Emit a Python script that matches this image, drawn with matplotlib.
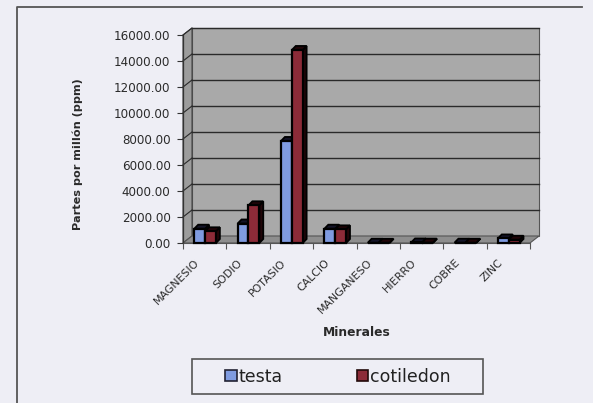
import matplotlib
matplotlib.use("Agg")
import matplotlib.pyplot as plt
from matplotlib.patches import Rectangle, Polygon, Patch
from matplotlib.lines import Line2D
from matplotlib.transforms import offset_copy, blended_transform_factory

# Mineral content of seed coat (testa) and cotyledon, ppm
minerales = ["MAGNESIO", "SODIO", "POTASIO", "CALCIO", "MANGANESO",
             "HIERRO", "COBRE", "ZINC"]
testa = [1100, 1500, 7850, 1100, 20, 40, 25, 350]
cotiledon = [900, 2900, 14850, 1050, 15, 30, 20, 250]
y_ticks = [0, 2000, 4000, 6000, 8000, 10000, 12000, 14000, 16000]

plt.rcParams['font.family'] = ['DejaVu Sans']

W, H = 593, 403
fig = plt.figure(figsize=(W / 100, H / 100), dpi=100)
bg = "#eeeef5"
fig.patch.set_facecolor(bg)

# outer chart border (left and top edges)
fig.lines.append(Line2D([17 / W, 17 / W, 582 / W], [0, 1 - 7 / H, 1 - 7 / H],
                        transform=fig.transFigure, color="#555555", lw=1.3))

ax = fig.add_axes([183 / W, 1 - 243 / H, 347 / W, 208 / H])
n = len(minerales)
ax.set_xlim(-0.5, n - 0.5)
ax.set_ylim(0, 16000)
ax.set_facecolor("none")
for s in ax.spines.values():
    s.set_visible(False)

# depth of the 3-D box in data units (9 px right, 7 px up)
fig.canvas.draw()
px_x = ax.bbox.width / n
px_y = ax.bbox.height / 16000
DX = 9 / px_x
DY = 7 / px_y
x0, x1 = -0.5, n - 0.5

wall = "#a9a9a9"
# back wall
ax.add_patch(Polygon([(x0 + DX, DY), (x1 + DX, DY), (x1 + DX, 16000 + DY),
                      (x0 + DX, 16000 + DY)], closed=True, facecolor=wall,
                     edgecolor="#555555", lw=0.8, clip_on=False, zorder=0))
# side wall
ax.add_patch(Polygon([(x0, 0), (x0 + DX, DY), (x0 + DX, 16000 + DY), (x0, 16000)],
                     closed=True, facecolor="#9c9c9c", edgecolor="#444444",
                     lw=0.8, clip_on=False, zorder=0.5))
# floor
ax.add_patch(Polygon([(x0, 0), (x1, 0), (x1 + DX, DY), (x0 + DX, DY)],
                     closed=True, facecolor="#8e8e8e", edgecolor="#555555",
                     lw=0.8, clip_on=False, zorder=0.6))
# gridlines on back and side walls
for t in y_ticks[1:]:
    ax.plot([x0 + DX, x1 + DX], [t + DY, t + DY], color="#2a2a2a", lw=1.0,
            clip_on=False, zorder=0.7)
    ax.plot([x0, x0 + DX], [t, t + DY], color="#2a2a2a", lw=0.8,
            clip_on=False, zorder=0.7)
# front axis lines
ax.plot([x0, x0], [0, 16000], color="#333333", lw=0.9, clip_on=False, zorder=0.8)
ax.plot([x0, x1], [0, 0], color="#555555", lw=0.8, clip_on=False, zorder=0.8)


def bar3d(xl, w, v, face, side, z):
    bd_x, bd_y = 0.09, 4 / px_y
    ax.add_patch(Polygon([(xl + w, 0), (xl + w + bd_x, bd_y),
                          (xl + w + bd_x, v + bd_y), (xl + w, v)], closed=True,
                         facecolor=side, edgecolor="black", lw=1.3,
                         clip_on=False, zorder=z))
    ax.add_patch(Polygon([(xl, v), (xl + w, v), (xl + w + bd_x, v + bd_y),
                          (xl + bd_x, v + bd_y)], closed=True,
                         facecolor=side, edgecolor="black", lw=1.3,
                         clip_on=False, zorder=z))
    ax.add_patch(Rectangle((xl, 0), w, v, facecolor=face, edgecolor="black",
                           lw=1.6, clip_on=False, zorder=z + 0.1))


c_testa, c_cot = "#7f9be0", "#8c2b38"
bw = 0.25
for i in range(n):
    bar3d(i - 0.24, bw, testa[i], c_testa, "#141428", 2 + i * 0.01)
    bar3d(i + 0.01, bw, cotiledon[i], c_cot, "#200508", 2.5 + i * 0.01)

# y axis ticks and labels
ax.set_yticks(y_ticks)
ax.set_yticklabels([f"{t:.2f}" for t in y_ticks], fontsize=8.6, color="#2a2a2a")
ax.tick_params(axis="y", length=4, width=0.8, color="#333333", pad=5)
ax.set_xticks([])
ax.set_xticks([i - 0.5 for i in range(n + 1)], minor=True)
ax.tick_params(axis="x", which="minor", length=4, width=0.8, color="#555555")

# rotated category labels
lbl_tr = offset_copy(blended_transform_factory(ax.transData, ax.transAxes),
                     fig=fig, x=-7, y=-18, units="dots")
for i, name in enumerate(minerales):
    ax.text(i, 0, name, transform=lbl_tr, rotation=45, rotation_mode="anchor",
            ha="right", va="center", fontsize=7.9, color="#2a2a2a")

fig.text(77.5 / W, 1 - 154 / H, "Partes por millón (ppm)", rotation=90,
         ha="center", va="center", fontsize=8.1, fontweight="bold",
         color="#2a2a2a")
fig.text(357 / W, 1 - 333 / H, "Minerales", ha="center", va="center",
         fontsize=8.8, fontweight="bold", color="#2a2a2a")

# legend box and entries
fig.patches.append(Rectangle((192 / W, 1 - 394 / H), 291 / W, 35 / H,
                             transform=fig.transFigure, facecolor=bg,
                             edgecolor="#555555", lw=1.2))
handles = [Patch(facecolor=c_testa, edgecolor="#222233", lw=1.2),
           Patch(facecolor=c_cot, edgecolor="#220a0a", lw=1.2)]
fig.legend(handles, ["testa", "cotiledon"], loc="center",
           bbox_to_anchor=(338 / W, 1 - 376.5 / H), ncol=2, frameon=False,
           fontsize=12.5, handlelength=0.65, handleheight=0.65,
           handletextpad=0.1, columnspacing=4.3, labelcolor="#222222")

fig.savefig("out.png", dpi=100, facecolor=bg)
